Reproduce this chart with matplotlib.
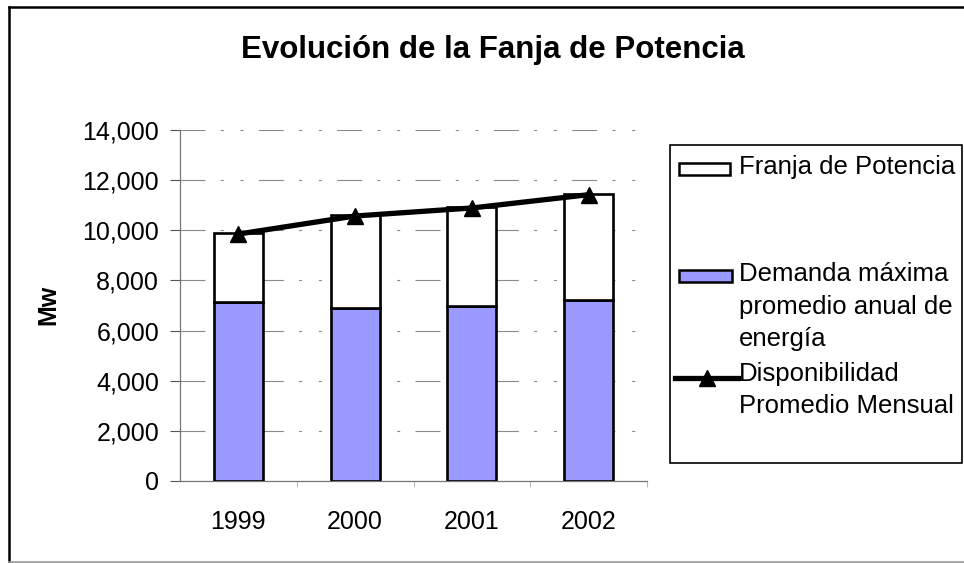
import matplotlib
matplotlib.use("Agg")
import matplotlib.pyplot as plt
from matplotlib.patches import Rectangle
from matplotlib.lines import Line2D
import numpy as np

plt.rcParams['font.family'] = ['Liberation Sans', 'DejaVu Sans']
plt.rcParams['lines.scale_dashes'] = False

years = ["1999", "2000", "2001", "2002"]
demanda = [7150, 6900, 7000, 7220]
total = [9900, 10600, 10920, 11460]
franja = [t - d for t, d in zip(total, demanda)]
disponibilidad = [9850, 10570, 10890, 11420]
yticks = [0, 2000, 4000, 6000, 8000, 10000, 12000, 14000]

W, H = 964, 563
fig = plt.figure(figsize=(W / 100, H / 100), dpi=100)

def fx(px):
    return px / W

def fy(py):
    return 1 - py / H

ax = fig.add_axes([fx(180), fy(481), fx(647) - fx(180), fy(130) - fy(481)])
x = np.arange(len(years))
bw = 0.42
ax.bar(x, demanda, bw, color='#9999FF', edgecolor='black', linewidth=1.9, zorder=3)
ax.bar(x, franja, bw, bottom=demanda, color='white', edgecolor='black', linewidth=1.9, zorder=3)
ax.plot(x, disponibilidad, color='black', linewidth=3.8, marker='^', markersize=11, zorder=4)

ax.set_xlim(-0.5, len(years) - 0.5)
ax.set_ylim(0, 14000)
ax.set_yticks(yticks)
ax.set_yticklabels([f"{v:,}" for v in yticks], fontsize=18)
ax.set_xticks(x)
ax.set_xticklabels(years, fontsize=18)
ax.set_xticks(np.arange(len(years)) + 0.5, minor=True)
ax.tick_params(axis='x', which='major', length=0, pad=21)
ax.tick_params(axis='x', which='minor', length=4, color='#aaaaaa', direction='out')
ax.tick_params(axis='y', which='major', length=7, color='#555555', pad=8, direction='out')

for v in yticks[1:]:
    ax.axhline(v, color='#8a8a8a', linewidth=0.8,
               linestyle=(0, (18, 11, 2.2, 12, 2.2, 11)), zorder=1)

for s in ['top', 'right']:
    ax.spines[s].set_visible(False)
ax.spines['left'].set_color('#777777')
ax.spines['bottom'].set_color('#777777')
ax.spines['left'].set_linewidth(0.9)
ax.spines['bottom'].set_linewidth(0.9)

fig.text(fx(493), fy(50), "Evolución de la Fanja de Potencia", fontsize=22.5,
         fontweight='bold', ha='center', va='center')
fig.text(fx(48), fy(305), "Mw", fontsize=18, fontweight='bold', rotation=90,
         ha='center', va='center')

# legend box
fig.patches.append(Rectangle((fx(670), fy(463)), fx(962) - fx(670), fy(145) - fy(463),
                             transform=fig.transFigure, facecolor='white',
                             edgecolor='black', linewidth=1.2))
fig.patches.append(Rectangle((fx(679), fy(175)), fx(730) - fx(679), fy(163) - fy(175),
                             transform=fig.transFigure, facecolor='white',
                             edgecolor='black', linewidth=1.8))
fig.patches.append(Rectangle((fx(679), fy(282)), fx(732) - fx(679), fy(270) - fy(282),
                             transform=fig.transFigure, facecolor='#9999FF',
                             edgecolor='black', linewidth=1.8))
fig.lines.append(Line2D([fx(675), fx(738)], [fy(378), fy(378)], transform=fig.transFigure,
                        color='black', linewidth=3.8))
fig.lines.append(Line2D([fx(707)], [fy(378)], transform=fig.transFigure,
                        color='black', marker='^', markersize=11))
tx = fx(739)
fs = 18.5
fig.text(tx, fy(167), "Franja de Potencia", fontsize=fs, va='center')
fig.text(tx, fy(274), "Demanda máxima", fontsize=fs, va='center')
fig.text(tx, fy(307), "promedio anual de", fontsize=fs, va='center')
fig.text(tx, fy(339), "energía", fontsize=fs, va='center')
fig.text(tx, fy(374), "Disponibilidad", fontsize=fs, va='center')
fig.text(tx, fy(406), "Promedio Mensual", fontsize=fs, va='center')

# outer border
fig.lines.append(Line2D([fx(9), fx(9)], [fy(7), fy(562)], transform=fig.transFigure,
                        color='black', linewidth=1.8))
fig.lines.append(Line2D([fx(9), fx(964)], [fy(7), fy(7)], transform=fig.transFigure,
                        color='black', linewidth=1.8))
fig.lines.append(Line2D([fx(9), fx(964)], [fy(562), fy(562)], transform=fig.transFigure,
                        color='#999999', linewidth=1.2))

fig.savefig("out.png", dpi=100)
